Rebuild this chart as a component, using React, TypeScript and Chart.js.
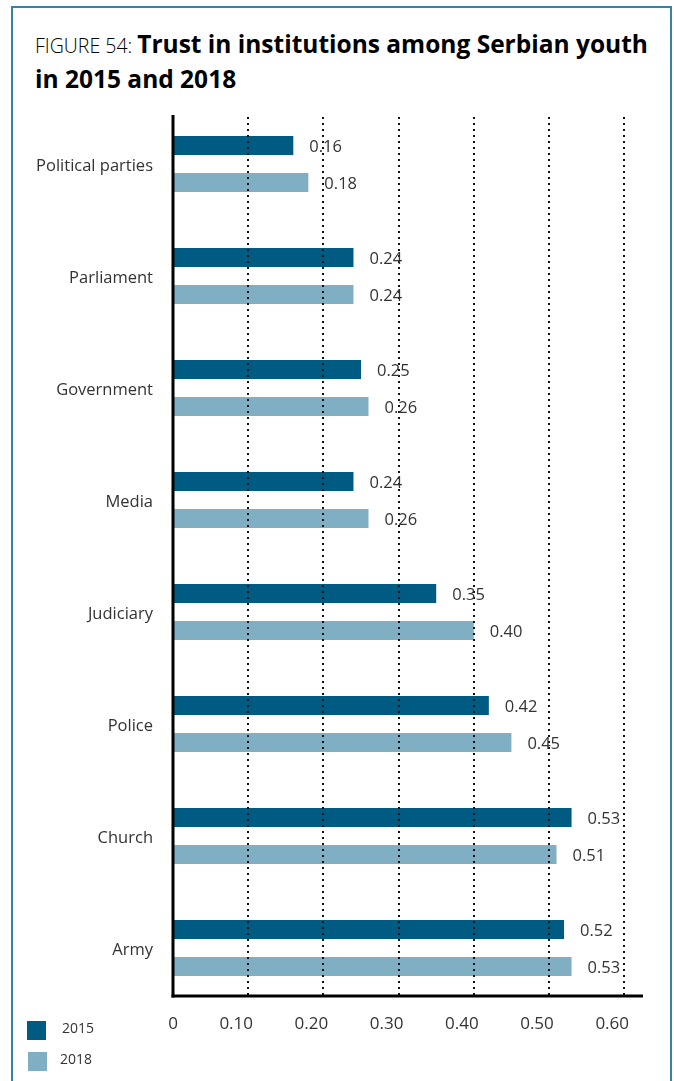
import React, { useEffect, useRef } from "react";
import { Chart, registerables } from "chart.js";

Chart.register(...registerables);

const categories = [
  "Political parties",
  "Parliament",
  "Government",
  "Media",
  "Judiciary",
  "Police",
  "Church",
  "Army",
];
const values2015 = [0.16, 0.24, 0.25, 0.24, 0.35, 0.42, 0.53, 0.52];
const values2018 = [0.18, 0.24, 0.26, 0.26, 0.4, 0.45, 0.51, 0.53];
const xTickValues = [0, 0.1, 0.2, 0.3, 0.4, 0.5, 0.6];
const xTickLabels = ["0", "0.10", "0.20", "0.30", "0.40", "0.50", "0.60"];
const seriesLabels = ["2015", "2018"];

const COLOR_2015 = "#005b82";
const COLOR_2018 = "#80afc4";
const TEXT = "#333333";
const FONT = "'Open Sans', 'Noto Sans', sans-serif";

const overlayPlugin = {
  id: "overlay",
  afterDatasetsDraw(chart: any) {
    const { ctx, chartArea, scales } = chart;
    const xs = scales.x;
    const axisY = chartArea.bottom - 8;
    const gridTop = chartArea.top + 9;
    ctx.save();
    // dotted gridlines
    ctx.strokeStyle = "#111";
    ctx.lineWidth = 2;
    ctx.setLineDash([2, 4]);
    xTickValues.forEach((v) => {
      if (v === 0) return;
      const x = Math.round(xs.getPixelForValue(v));
      ctx.beginPath();
      ctx.moveTo(x, gridTop);
      ctx.lineTo(x, axisY);
      ctx.stroke();
    });
    ctx.setLineDash([]);
    // axes
    ctx.strokeStyle = "#000";
    ctx.lineWidth = 3;
    ctx.beginPath();
    ctx.moveTo(chartArea.left, chartArea.top + 7);
    ctx.lineTo(chartArea.left, axisY + 1.5);
    ctx.stroke();
    ctx.beginPath();
    ctx.moveTo(chartArea.left - 1.5, axisY);
    ctx.lineTo(chartArea.right, axisY);
    ctx.stroke();
    // x tick labels
    ctx.fillStyle = TEXT;
    ctx.font = `17px ${FONT}`;
    ctx.textAlign = "center";
    ctx.textBaseline = "middle";
    xTickValues.forEach((v, i) => {
      const x = xs.getPixelForValue(v) + (v === 0 ? 0 : -12);
      ctx.fillText(xTickLabels[i], x, axisY + 28);
    });
    // value labels
    ctx.font = `16.5px ${FONT}`;
    ctx.textAlign = "left";
    chart.data.datasets.forEach((ds: any, di: number) => {
      const meta = chart.getDatasetMeta(di);
      meta.data.forEach((bar: any, i: number) => {
        ctx.fillText(Number(ds.data[i]).toFixed(2), bar.x + 16, bar.y + 1.5);
      });
    });
    ctx.restore();
  },
};

export default function App() {
  const canvasRef = useRef<HTMLCanvasElement | null>(null);

  useEffect(() => {
    if (!canvasRef.current) return;
    const chart = new Chart(canvasRef.current, {
      type: "bar",
      data: {
        labels: categories,
        datasets: [
          {
            label: seriesLabels[0],
            data: values2015,
            backgroundColor: COLOR_2015,
            categoryPercentage: 0.661,
            barPercentage: 0.514,
          },
          {
            label: seriesLabels[1],
            data: values2018,
            backgroundColor: COLOR_2018,
            categoryPercentage: 0.661,
            barPercentage: 0.514,
          },
        ],
      },
      options: {
        indexAxis: "y",
        responsive: false,
        animation: false,
        events: [],
        layout: { padding: { top: 108, right: 31, bottom: 37, left: 0 } },
        plugins: {
          legend: { display: false },
          tooltip: { enabled: false },
          title: { display: false },
        },
        scales: {
          y: {
            type: "category",
            grid: { display: false },
            border: { display: false },
            ticks: {
              autoSkip: false,
              padding: 12,
              labelOffset: 2,
              color: TEXT,
              font: { family: FONT, size: 16.5 },
            },
            afterFit: (s: any) => {
              s.width = 173;
            },
          },
          x: {
            type: "linear",
            min: 0,
            max: 0.625,
            grid: { display: false },
            border: { display: false },
            ticks: { display: false },
            afterFit: (s: any) => {
              s.height = 40;
            },
          },
        },
      },
      plugins: [overlayPlugin],
    } as any);
    return () => chart.destroy();
  }, []);

  return (
    <div
      style={{
        position: "absolute",
        left: 0,
        top: 0,
        width: 674,
        height: 1081,
        overflow: "hidden",
        background: "#fff",
        fontFamily: FONT,
      }}
    >
      <div
        style={{
          position: "absolute",
          left: 11,
          top: 6,
          width: 661,
          height: 1120,
          boxSizing: "border-box",
          border: "2px solid #3584a7",
        }}
      />
      <div
        style={{
          position: "absolute",
          left: 35,
          top: 27,
          fontSize: 24.5,
          lineHeight: "33px",
          color: "#000",
          whiteSpace: "nowrap",
        }}
      >
        <span style={{ fontWeight: 300, fontSize: 19.5 }}>FIGURE 54: </span>
        <span style={{ fontWeight: 700 }}>Trust in institutions among Serbian youth</span>
        <br />
        <span style={{ fontWeight: 700 }}>in 2015 and 2018</span>
      </div>
      <canvas
        ref={canvasRef}
        width={674}
        height={1081}
        style={{ position: "absolute", left: 0, top: 0, width: 674, height: 1081 }}
      />
      {seriesLabels.map((s, i) => (
        <div key={s}>
          <div
            style={{
              position: "absolute",
              left: 27 + i,
              top: 1021 + i * 31,
              width: 19,
              height: 19,
              background: i === 0 ? COLOR_2015 : COLOR_2018,
            }}
          />
          <div
            style={{
              position: "absolute",
              left: 62 - i * 2,
              top: 1028 + i * 31 - 10,
              fontSize: 14,
              lineHeight: "20px",
              color: TEXT,
            }}
          >
            {s}
          </div>
        </div>
      ))}
    </div>
  );
}
